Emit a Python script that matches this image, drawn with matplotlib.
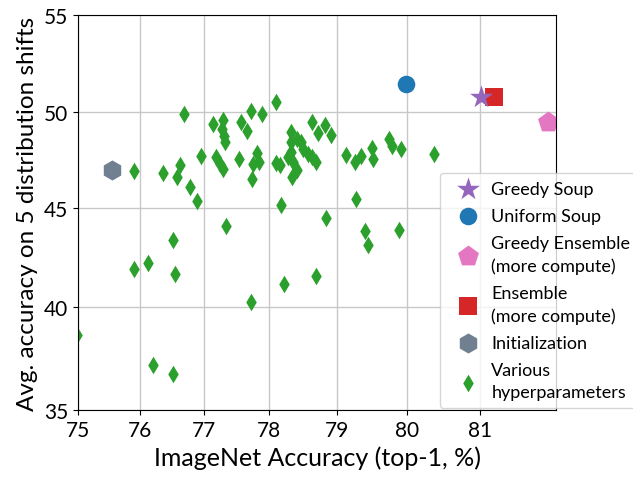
import matplotlib
matplotlib.use("Agg")
import matplotlib.pyplot as plt
import numpy as np

plt.rcParams['font.family'] = ['Lato', 'DejaVu Sans']

# Various hyperparameters (fine-tuned models)
various_x = [75.91, 76.36, 76.64, 76.58, 76.69, 76.79, 76.90, 76.96, 77.14, 77.30,
             77.28, 77.31, 77.33, 77.20, 77.25, 77.30, 77.54, 77.57, 77.67, 77.72,
             77.90, 78.10, 77.81, 77.76, 77.84, 77.74, 78.10, 78.16, 78.17, 78.33,
             78.32, 78.41, 78.48, 78.50, 78.33, 78.28, 78.36, 78.58, 78.63, 78.70,
             78.34, 78.41, 78.63, 78.82, 78.72, 78.92, 79.13, 79.26, 79.35, 79.50,
             79.52, 79.75, 79.78, 79.91, 80.37, 78.84, 79.28, 79.40, 79.45, 79.88,
             78.69, 77.34, 76.52, 75.91, 76.13, 76.56, 77.73, 78.22, 74.99, 76.21,
             76.53]
various_y = [46.93, 46.83, 47.24, 46.64, 49.90, 46.12, 45.40, 47.71, 49.36, 49.57,
             49.11, 48.76, 48.42, 47.64, 47.30, 47.04, 47.55, 49.45, 48.99, 50.02,
             49.88, 50.49, 47.85, 47.30, 47.38, 46.52, 47.35, 47.24, 45.19, 48.93,
             48.42, 48.59, 48.42, 48.07, 47.90, 47.64, 47.38, 47.81, 47.64, 47.38,
             46.62, 46.99, 49.45, 49.31, 48.90, 48.80, 47.76, 47.38, 47.72, 48.11,
             47.55, 48.59, 48.21, 48.07, 47.81, 44.51, 45.46, 43.84, 43.15, 43.87,
             41.54, 44.12, 43.40, 41.93, 42.23, 41.68, 40.27, 41.17, 38.61, 37.15,
             36.72]

init_x, init_y = 75.56, 46.97
uniform_x, uniform_y = 79.98, 51.42
greedy_x, greedy_y = 81.01, 50.76
ensemble_x, ensemble_y = 81.18, 50.74
greedy_ens_x, greedy_ens_y = 81.90, 49.45

x_ticks = [75, 76, 77, 78, 79, 80, 81]
y_ticks = [35, 40, 45, 50, 55]


def fwd(v):
    p = np.clip(np.asarray(v, dtype=float) / 100.0, 1e-6, 1 - 1e-6)
    return np.log(p / (1 - p))


def inv(v):
    return 100.0 / (1 + np.exp(-np.asarray(v, dtype=float)))


fig = plt.figure(figsize=(6.33, 4.81), dpi=100)
ax = fig.add_axes([0.1232, 0.1455, 0.7552, 0.8212])
ax.set_xscale('function', functions=(fwd, inv))
ax.set_yscale('function', functions=(fwd, inv))

h_var = ax.scatter(various_x, various_y, marker='d', s=80, color='tab:green',
                   linewidths=0, label='Various\nhyperparameters')
h_init = ax.scatter([init_x], [init_y], marker='h', s=210, color='slategray',
                    linewidths=0, label='Initialization')
h_ens = ax.scatter([ensemble_x], [ensemble_y], marker='s', s=150, color='tab:red',
                   linewidths=0, label='Ensemble\n(more compute)')
h_gens = ax.scatter([greedy_ens_x], [greedy_ens_y], marker='p', s=250, color='tab:pink',
                    linewidths=0, label='Greedy Ensemble\n(more compute)')
h_uni = ax.scatter([uniform_x], [uniform_y], marker='o', s=160, color='tab:blue',
                   linewidths=0, label='Uniform Soup')
h_greedy = ax.scatter([greedy_x], [greedy_y], marker='*', s=300, color='tab:purple',
                      linewidths=0, label='Greedy Soup')

ax.set_xlim(75, 82)
ax.set_ylim(35, 55)
ax.set_xticks(x_ticks)
ax.set_xticklabels([str(t) for t in x_ticks])
ax.set_yticks(y_ticks)
ax.set_yticklabels([str(t) for t in y_ticks])
ax.minorticks_off()
ax.tick_params(labelsize=15)
ax.grid(True, color='#c8c8c8', linewidth=1)
ax.set_axisbelow(True)

ax.set_xlabel('ImageNet Accuracy (top-1, %)', fontsize=18)
ax.set_ylabel('Avg. accuracy on 5 distribution shifts', fontsize=17.5)

leg = ax.legend(handles=[h_greedy, h_uni, h_gens, h_ens, h_init, h_var],
                loc='lower left', bbox_to_anchor=(0.757, 0.005), borderaxespad=0,
                fontsize=13, handlelength=2.2, handletextpad=0.2,
                labelspacing=0.62, borderpad=0.45)
for t in leg.get_texts():
    t.set_linespacing(1.45)

fig.savefig('out.png', dpi=100)
